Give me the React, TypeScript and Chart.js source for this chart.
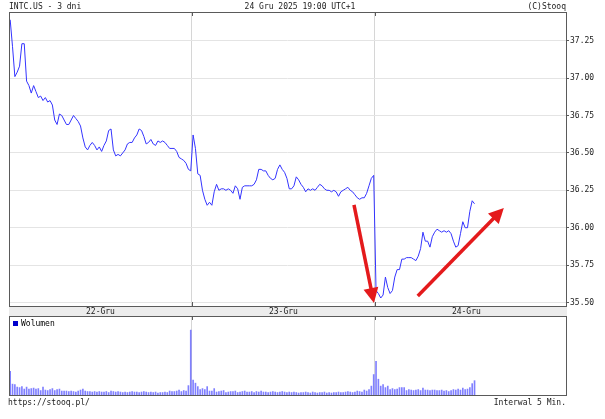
import { useEffect, useRef } from 'react';
import { Chart, registerables } from 'chart.js';

Chart.register(...registerables);

// ---------- data ----------
const dayLabels = ['22-Gru', '23-Gru', '24-Gru'];
const dayCenters = [39, 117, 195];
const dayBoundaries = [78, 156];
const priceTicks = [35.5, 35.75, 36.0, 36.25, 36.5, 36.75, 37.0, 37.25];

const priceDay1 = [
  37.39, 37.21, 37.01, 37.04, 37.08, 37.23, 37.23, 36.98, 36.95, 36.90,
  36.95, 36.91, 36.87, 36.88, 36.85, 36.87, 36.84, 36.85, 36.82, 36.72,
  36.69, 36.76, 36.75, 36.72, 36.69, 36.69, 36.72, 36.75, 36.73, 36.71,
  36.68, 36.60, 36.54, 36.52, 36.55, 36.57, 36.55, 36.52, 36.54, 36.51,
  36.55, 36.58, 36.65, 36.66, 36.52, 36.48, 36.49, 36.48, 36.50, 36.52,
  36.56, 36.57, 36.57, 36.60, 36.62, 36.66, 36.65, 36.61, 36.56, 36.57,
  36.59, 36.56, 36.55, 36.58, 36.57, 36.58, 36.57, 36.55, 36.53, 36.53,
  36.53, 36.51, 36.47, 36.46, 36.45, 36.43, 36.39, 36.38,
];
const priceDay2 = [
  36.62, 36.53, 36.36, 36.35, 36.25, 36.19, 36.15, 36.17, 36.15, 36.24,
  36.29, 36.25, 36.26, 36.26, 36.25, 36.26, 36.25, 36.23, 36.28, 36.26,
  36.19, 36.27, 36.28, 36.28, 36.28, 36.28, 36.29, 36.32, 36.39, 36.39,
  36.38, 36.38, 36.35, 36.33, 36.32, 36.33, 36.39, 36.42, 36.39, 36.37,
  36.33, 36.26, 36.26, 36.28, 36.34, 36.32, 36.29, 36.27, 36.24, 36.26,
  36.25, 36.26, 36.25, 36.27, 36.29, 36.28, 36.26, 36.25, 36.25, 36.24,
  36.25, 36.24, 36.21, 36.24, 36.25, 36.26, 36.27, 36.25, 36.24, 36.22,
  36.20, 36.19, 36.20, 36.20, 36.23, 36.28, 36.33, 36.35,
];
const priceDay3 = [
  35.58, 35.56, 35.53, 35.55, 35.67, 35.60, 35.56, 35.58, 35.67, 35.72,
  35.72, 35.79, 35.79, 35.80, 35.80, 35.80, 35.79, 35.78, 35.81, 35.86,
  35.97, 35.91, 35.91, 35.87, 35.94, 35.97, 35.99, 35.98, 35.97, 35.98,
  35.97, 35.98, 35.96, 35.91, 35.87, 35.88, 35.96, 36.04, 36.00, 36.00,
  36.11, 36.18, 36.16,
];

// volume, thousands of shares
const volDay1 = [
  2400, 1100, 1050, 800, 750, 850, 600, 800, 600, 650,
  700, 600, 650, 450, 800, 500, 450, 550, 650, 450,
  550, 600, 400, 400, 400, 350, 400, 350, 300, 400,
  500, 600, 400, 350, 350, 300, 350, 300, 350, 300,
  300, 350, 250, 400, 350, 300, 350, 300, 250, 300,
  250, 300, 350, 300, 300, 250, 300, 350, 300, 250,
  300, 250, 300, 200, 250, 250, 300, 250, 400, 350,
  350, 400, 500, 350, 450, 400, 950, 6570,
];
const volDay2 = [
  1500, 1200, 850, 550, 650, 550, 850, 400, 400, 650,
  300, 350, 400, 450, 250, 300, 350, 350, 400, 250,
  300, 350, 400, 300, 300, 350, 250, 350, 300, 400,
  300, 300, 250, 300, 350, 300, 250, 300, 350, 300,
  250, 300, 250, 300, 250, 200, 250, 250, 300, 250,
  200, 300, 250, 200, 250, 250, 300, 200, 250, 200,
  250, 250, 300, 250, 250, 300, 350, 300, 250, 300,
  400, 350, 300, 500, 400, 550, 900, 2070,
];
const volDay3 = [
  3400, 1600, 900, 1050, 750, 900, 550, 650, 550, 600,
  750, 750, 750, 450, 550, 500, 450, 500, 550, 450,
  700, 500, 500, 450, 500, 500, 450, 450, 500, 400,
  450, 350, 450, 550, 500, 600, 500, 700, 550, 600,
  750, 1150, 1450,
];

// annotation arrows (data space: bar index, price)
const arrowFromX = [147.1, 174.3];
const arrowFromY = [36.152, 35.543];
const arrowToX = [155.6, 211.0];
const arrowToY = [35.497, 36.132];

const titleLeft = 'INTC.US - 3 dni';
const titleCenter = '24 Gru 2025 19:00 UTC+1';
const titleRight = '(C)Stooq';
const footerLeft = 'https://stooq.pl/';
const footerRight = 'Interwal 5 Min.';
const volumeLabel = 'Wolumen';

// ---------- styles ----------
const FONT = "'DejaVu Sans Mono', 'Liberation Mono', monospace";
const TEXT = '#1a1a1a';
const FRAME = '#5a5a5a';
const LINE = '#3434ff';
const VOL = 'rgba(96,96,255,0.8)';
const LEGEND_BLUE = '#0000cc';
const RED = '#e41a1c';

const X_MIN = 0;
const X_MAX = 237.5;

function toPoints(days: number[][], starts: number[]) {
  const out: { x: number; y: number }[] = [];
  days.forEach((arr, d) => arr.forEach((v, i) => out.push({ x: starts[d] + i + 0.5, y: v })));
  return out;
}

// frame around the plot area, plus the short dark day-boundary ticks
function makeFramePlugin(tickTop: boolean, tickBottom: boolean) {
  return {
    id: 'frame',
    afterDraw(chart: any) {
      const { ctx, chartArea: a } = chart;
      const gx = chart.scales.xg || chart.scales.x;
      ctx.save();
      ctx.strokeStyle = FRAME;
      ctx.lineWidth = 1;
      ctx.strokeRect(Math.round(a.left) + 0.5, Math.round(a.top) + 0.5, Math.round(a.right - a.left), Math.round(a.bottom - a.top));
      ctx.beginPath();
      dayBoundaries.forEach((v) => {
        const px = Math.round(gx.getPixelForValue(v)) + 0.5;
        if (tickTop) {
          ctx.moveTo(px, a.top);
          ctx.lineTo(px, a.top + 4);
        }
        if (tickBottom) {
          ctx.moveTo(px, a.bottom - 4);
          ctx.lineTo(px, a.bottom);
        }
      });
      ctx.stroke();
      ctx.restore();
    },
  };
}

export default function App() {
  const priceRef = useRef<HTMLCanvasElement>(null);
  const volRef = useRef<HTMLCanvasElement>(null);

  useEffect(() => {
    const font = { family: FONT, size: 8 };

    const bandPlugin = {
      id: 'band',
      beforeDraw(chart: any) {
        const s = chart.scales.x;
        const a = chart.chartArea;
        const { ctx } = chart;
        ctx.save();
        ctx.fillStyle = '#ececec';
        ctx.fillRect(a.left, s.top, a.right - a.left + 1, s.bottom - s.top);
        ctx.restore();
      },
    };

    const textPlugin = {
      id: 'texts',
      afterDraw(chart: any) {
        const { ctx, chartArea: a } = chart;
        ctx.save();
        ctx.font = `8px ${FONT}`;
        ctx.fillStyle = TEXT;
        ctx.textBaseline = 'middle';
        ctx.textAlign = 'left';
        ctx.fillText(titleLeft, a.left, 6.5);
        ctx.fillText(footerLeft, a.left - 1, 403);
        ctx.textAlign = 'center';
        ctx.fillText(titleCenter, 300, 6.5);
        ctx.textAlign = 'right';
        ctx.fillText(titleRight, a.right, 6.5);
        ctx.fillText(footerRight, a.right, 403);
        ctx.restore();
      },
    };

    const legendPlugin = {
      id: 'volLegend',
      afterDraw(chart: any) {
        const { ctx, chartArea: a } = chart;
        ctx.save();
        ctx.fillStyle = LEGEND_BLUE;
        ctx.fillRect(a.left + 4, a.top + 5, 5, 5);
        ctx.font = `8px ${FONT}`;
        ctx.fillStyle = '#000';
        ctx.textBaseline = 'middle';
        ctx.textAlign = 'left';
        ctx.fillText(chart.data.datasets[0].label, a.left + 12, a.top + 7.5);
        ctx.restore();
      },
    };

    const arrowPlugin = {
      id: 'arrows',
      afterDatasetsDraw(chart: any) {
        const xs = chart.scales.x;
        const ys = chart.scales.y;
        const { ctx } = chart;
        ctx.save();
        ctx.strokeStyle = RED;
        ctx.fillStyle = RED;
        ctx.lineWidth = 3.5;
        for (let i = 0; i < arrowFromX.length; i++) {
          const x1 = xs.getPixelForValue(arrowFromX[i]);
          const y1 = ys.getPixelForValue(arrowFromY[i]);
          const x2 = xs.getPixelForValue(arrowToX[i]);
          const y2 = ys.getPixelForValue(arrowToY[i]);
          const ang = Math.atan2(y2 - y1, x2 - x1);
          const headLen = 15;
          const headHalf = 7.5;
          const bx = x2 - headLen * Math.cos(ang);
          const by = y2 - headLen * Math.sin(ang);
          ctx.beginPath();
          ctx.moveTo(x1, y1);
          ctx.lineTo(bx + 2 * Math.cos(ang), by + 2 * Math.sin(ang));
          ctx.stroke();
          ctx.beginPath();
          ctx.moveTo(x2, y2);
          ctx.lineTo(bx + headHalf * Math.sin(ang), by - headHalf * Math.cos(ang));
          ctx.lineTo(bx - headHalf * Math.sin(ang), by + headHalf * Math.cos(ang));
          ctx.closePath();
          ctx.fill();
        }
        ctx.restore();
      },
    };

    const priceChart = new Chart(priceRef.current!, {
      type: 'line',
      data: {
        datasets: [
          {
            label: 'INTC.US',
            data: toPoints([priceDay1, priceDay2, priceDay3], [0, 78, 156]),
            borderColor: LINE,
            borderWidth: 1,
            pointRadius: 0,
            tension: 0,
            fill: false,
            xAxisID: 'x',
            yAxisID: 'y',
          },
        ],
      },
      options: {
        responsive: false,
        animation: false,
        events: [],
        layout: { padding: { left: 9, top: 12, right: 0, bottom: 103 } },
        plugins: { legend: { display: false }, tooltip: { enabled: false }, title: { display: false } },
        scales: {
          x: {
            type: 'linear',
            position: 'bottom',
            min: X_MIN,
            max: X_MAX,
            grid: { display: false, drawTicks: false },
            border: { display: false },
            ticks: {
              font,
              color: TEXT,
              padding: 1,
              maxRotation: 0,
              autoSkip: false,
              callback: (_v: any, i: number) => dayLabels[i],
            },
            afterBuildTicks: (s: any) => {
              s.ticks = dayCenters.map((v) => ({ value: v }));
            },
            afterFit: (s: any) => {
              s.height = 10;
            },
          },
          xg: {
            type: 'linear',
            position: 'bottom',
            min: X_MIN,
            max: X_MAX,
            grid: { color: '#d6d6d6', drawTicks: false },
            border: { display: false },
            ticks: { display: false },
            afterBuildTicks: (s: any) => {
              s.ticks = dayBoundaries.map((v) => ({ value: v }));
            },
            afterFit: (s: any) => {
              s.height = 0;
            },
          },
          y: {
            type: 'linear',
            position: 'right',
            min: 35.4766,
            max: 37.442,
            grid: { color: '#e4e4e4', tickColor: FRAME, tickLength: 3 },
            border: { display: false },
            ticks: {
              font,
              color: TEXT,
              padding: 1,
              callback: (v: any) => Number(v).toFixed(2),
            },
            afterBuildTicks: (s: any) => {
              s.ticks = priceTicks.map((v) => ({ value: v }));
            },
            afterFit: (s: any) => {
              s.width = 39;
            },
          },
        },
      },
      plugins: [bandPlugin, makeFramePlugin(true, true), arrowPlugin, textPlugin],
    } as any);

    const volChart = new Chart(volRef.current!, {
      type: 'bar',
      data: {
        datasets: [
          {
            label: volumeLabel,
            data: toPoints([volDay1, volDay2, volDay3], [0, 78, 156]),
            backgroundColor: VOL,
            borderWidth: 0,
            barThickness: 1,
          },
        ],
      },
      options: {
        responsive: false,
        animation: false,
        events: [],
        layout: { padding: { left: 9, top: 316, right: 39, bottom: 24 } },
        plugins: {
          tooltip: { enabled: false },
          legend: { display: false },
        },
        scales: {
          x: {
            type: 'linear',
            position: 'bottom',
            min: X_MIN,
            max: X_MAX,
            offset: false,
            grid: { color: '#d6d6d6', drawTicks: false, offset: false },
            border: { display: false },
            ticks: { display: false },
            afterBuildTicks: (s: any) => {
              s.ticks = dayBoundaries.map((v) => ({ value: v }));
            },
            afterFit: (s: any) => {
              s.height = 0;
            },
          },
          y: {
            type: 'linear',
            display: false,
            min: 0,
            max: 8000,
          },
        },
      },
      plugins: [makeFramePlugin(true, false), legendPlugin],
    } as any);

    return () => {
      priceChart.destroy();
      volChart.destroy();
    };
  }, []);

  return (
    <div style={{ position: 'fixed', left: 0, top: 0, width: 605, height: 419, background: '#fff' }}>
      <canvas ref={priceRef} width={605} height={419} style={{ position: 'absolute', left: 0, top: 0, width: 605, height: 419 }} />
      <canvas ref={volRef} width={605} height={419} style={{ position: 'absolute', left: 0, top: 0, width: 605, height: 419 }} />
    </div>
  );
}
